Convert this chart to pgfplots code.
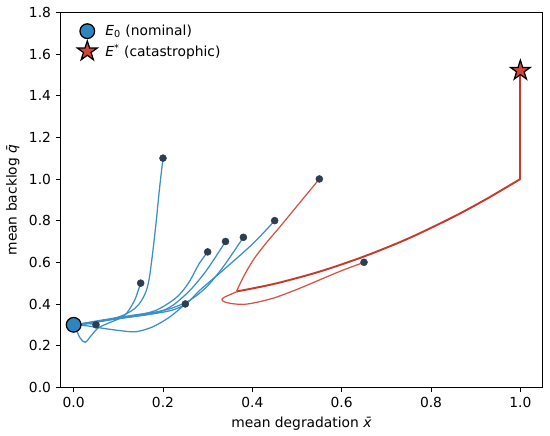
\documentclass[border=0pt]{standalone}
\usepackage{fontspec}
\setmainfont{DejaVu Sans}
\usepackage{pgfplots}
\pgfplotsset{compat=1.18}
\definecolor{tblue}{HTML}{3A8EC9}
\definecolor{mblue}{HTML}{2E86C1}
\definecolor{tred}{HTML}{D35442}
\definecolor{thred}{HTML}{C63A2B}
\definecolor{sred}{HTML}{D0473A}
\definecolor{dotc}{HTML}{2C3E50}
\pgfdeclareplotmark{fstar}{%
  \pgfpathmoveto{\pgfpointpolar{90}{\pgfplotmarksize}}%
  \pgfpathlineto{\pgfpointpolar{126}{0.382*\pgfplotmarksize}}%
  \pgfpathlineto{\pgfpointpolar{162}{\pgfplotmarksize}}%
  \pgfpathlineto{\pgfpointpolar{198}{0.382*\pgfplotmarksize}}%
  \pgfpathlineto{\pgfpointpolar{234}{\pgfplotmarksize}}%
  \pgfpathlineto{\pgfpointpolar{270}{0.382*\pgfplotmarksize}}%
  \pgfpathlineto{\pgfpointpolar{306}{\pgfplotmarksize}}%
  \pgfpathlineto{\pgfpointpolar{342}{0.382*\pgfplotmarksize}}%
  \pgfpathlineto{\pgfpointpolar{18}{\pgfplotmarksize}}%
  \pgfpathlineto{\pgfpointpolar{54}{0.382*\pgfplotmarksize}}%
  \pgfpathclose
  \pgfusepathqfillstroke}
\begin{document}
\begin{tikzpicture}
\path[use as bounding box] (-0.607in,-0.487in) rectangle (4.893in,3.873in);
\begin{axis}[
  at={(0,0)}, anchor=south west,
  scale only axis, width=4.82in, height=3.75in,
  xmin=-0.029, xmax=1.05, ymin=0, ymax=1.8,
  xtick={0,0.2,...,1.0}, ytick={0,0.2,...,1.8},
  xtick pos=left, ytick pos=left,
  tick align=outside, major tick length=3.5pt,
  tick style={black, line width=0.6pt},
  axis line style={line width=0.6pt},
  /pgf/number format/.cd, fixed, fixed zerofill, precision=1, assume math mode=true,
  /pgfplots/.cd,
  ticklabel style={font=\fontsize{10}{12}\selectfont},
  label style={font=\fontsize{10}{12}\selectfont},
  xlabel={mean degradation \textit{x̄}},
  ylabel={mean backlog \textit{q̄}},
  legend style={at={(0.0255,0.982)}, anchor=north west, draw=none, fill=none,
    font=\fontsize{10}{12}\selectfont, row sep=0.5pt,
    /tikz/every odd column/.append style={column sep=4pt}},
  legend cell align=left,
]
% blue trajectories
\addplot[tblue, line width=0.9pt, smooth, forget plot] coordinates {
(0.2,1.1)(0.192,0.95)(0.184,0.78)(0.176,0.63)(0.169,0.52)(0.162,0.46)(0.15,0.41)(0.135,0.375)(0.11,0.345)(0.08,0.325)(0.05,0.312)(0.02,0.303)(0,0.3)};
\addplot[tblue, line width=0.9pt, smooth, forget plot] coordinates {
(0.15,0.5)(0.143,0.455)(0.137,0.42)(0.125,0.375)(0.111,0.339)(0.08,0.31)(0.055,0.285)(0.04,0.25)(0.026,0.216)(0.015,0.235)(0.007,0.27)(0,0.3)};
\addplot[tblue, line width=0.9pt, smooth, forget plot] coordinates {
(0.05,0.3)(0.035,0.305)(0.015,0.302)(0,0.3)};
\addplot[tblue, line width=0.9pt, smooth, forget plot] coordinates {
(0.25,0.4)(0.216,0.339)(0.178,0.291)(0.14,0.267)(0.104,0.272)(0.06,0.285)(0.03,0.295)(0,0.3)};
\addplot[tblue, line width=0.9pt, smooth, forget plot] coordinates {
(0.3,0.65)(0.28,0.59)(0.261,0.514)(0.243,0.46)(0.223,0.419)(0.186,0.371)(0.15,0.35)(0.1,0.335)(0.05,0.318)(0.02,0.306)(0,0.3)};
\addplot[tblue, line width=0.9pt, smooth, forget plot] coordinates {
(0.34,0.7)(0.298,0.563)(0.261,0.467)(0.223,0.395)(0.19,0.36)(0.15,0.345)(0.1,0.33)(0.05,0.315)(0,0.3)};
\addplot[tblue, line width=0.9pt, smooth, forget plot] coordinates {
(0.38,0.72)(0.335,0.579)(0.298,0.483)(0.261,0.419)(0.22,0.38)(0.18,0.36)(0.13,0.345)(0.08,0.325)(0.04,0.31)(0,0.3)};
\addplot[tblue, line width=0.9pt, smooth, forget plot] coordinates {
(0.45,0.8)(0.402,0.691)(0.335,0.563)(0.283,0.467)(0.253,0.403)(0.22,0.37)(0.17,0.35)(0.12,0.335)(0.07,0.32)(0.03,0.308)(0,0.3)};
% red trajectories
\addplot[tred, line width=0.9pt, smooth, forget plot] coordinates {
(0.55,1.0)(0.50,0.87)(0.462,0.771)(0.43,0.69)(0.402,0.611)(0.38,0.53)(0.365,0.462)};
\addplot[tred, line width=0.9pt, smooth, forget plot] coordinates {
(0.65,0.6)(0.6,0.56)(0.55,0.515)(0.5,0.47)(0.45,0.43)(0.41,0.408)(0.38,0.398)(0.35,0.403)(0.333,0.415)(0.334,0.428)(0.345,0.44)(0.365,0.459)};
\addplot[thred, line width=1.4pt, smooth, forget plot] coordinates {
(0.365,0.46)(0.45,0.497)(0.55,0.555)(0.65,0.628)(0.75,0.715)(0.85,0.818)(0.925,0.905)(1.0,1.0)};
\addplot[thred, line width=1.4pt, forget plot] coordinates {(1.0,1.0)(1.0,1.52)};
% start points
\addplot[only marks, mark=*, mark size=2.5pt, color=dotc, forget plot] coordinates {
(0.2,1.1)(0.15,0.5)(0.05,0.3)(0.25,0.4)(0.3,0.65)(0.34,0.7)(0.38,0.72)(0.45,0.8)(0.55,1.0)(0.65,0.6)};
% equilibria
\addplot[only marks, mark=*, mark size=5.3pt, mark options={fill=mblue, draw=black, line width=0.9pt}] coordinates {(0,0.3)};
\addlegendentry{\textit{E}\textsubscript{0} (nominal)}
\addplot[only marks, mark=fstar, mark size=7.5pt, mark options={fill=sred, draw=black, line width=0.9pt}] coordinates {(1.0,1.52)};
\addlegendentry{\textit{E}\textsuperscript{*} (catastrophic)}
\end{axis}
\end{tikzpicture}
\end{document}
